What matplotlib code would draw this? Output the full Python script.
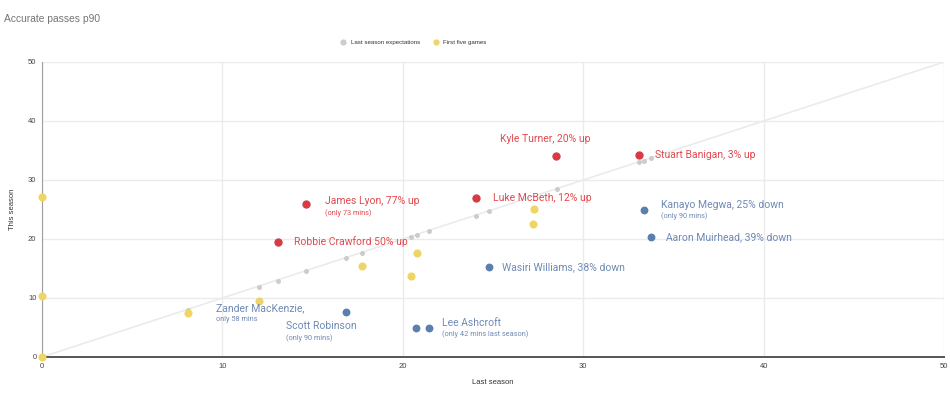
import matplotlib
matplotlib.use('Agg')
import matplotlib.pyplot as plt

# last season expectations (on the diagonal: last season value = expected this season)
expect_x = [8.1, 12.05, 13.06, 14.63, 16.85, 17.72, 20.45, 20.8, 21.43, 24.06, 24.76, 28.55, 33.07, 33.35, 33.76]
expect_y = [8.0, 11.9, 12.9, 14.5, 16.7, 17.7, 20.3, 20.7, 21.35, 23.95, 24.75, 28.47, 33.0, 33.3, 33.7]

# first five games
first_x = [0, 0, 0, 8.11, 12.05, 17.72, 20.77, 20.45, 27.29, 27.2]
first_y = [27.1, 10.3, 0, 7.4, 9.55, 15.5, 17.7, 13.8, 25.1, 22.5]

# players trending up
up_x = [28.5, 33.1, 14.63, 24.06, 13.08]
up_y = [34.07, 34.2, 25.9, 26.95, 19.5]

# players trending down
down_x = [33.37, 33.76, 24.78, 16.85, 20.73, 21.45]
down_y = [24.9, 20.3, 15.25, 7.6, 4.9, 4.9]

# annotations: (x, y, main label, sub label)
labels_up = [
    (25.4, 37.0, 'Kyle Turner, 20% up', None),
    (34.0, 34.2, 'Stuart Banigan, 3% up', None),
    (15.7, 26.4, 'James Lyon, 77% up', '(only 73 mins)'),
    (25.0, 26.95, 'Luke McBeth, 12% up', None),
    (13.95, 19.5, 'Robbie Crawford 50% up', None),
]
labels_down = [
    (34.3, 25.8, 'Kanayo Megwa, 25% down', '(only 90 mins)'),
    (34.6, 20.3, 'Aaron Muirhead, 39% down', None),
    (25.5, 15.25, 'Wasiri Williams, 38% down', None),
    (9.65, 8.2, 'Zander MacKenzie,', 'only 58 mins'),
    (13.5, 5.2, 'Scott Robinson', '(only 90 mins)'),
    (22.2, 5.8, 'Lee Ashcroft', '(only 42 mins last season)'),
]

RED = '#da3a41'
BLUE = '#5b7fae'
RED_TXT = '#e04a50'
BLUE_TXT = '#6f8ab4'

fig = plt.figure(figsize=(9.5, 3.96), dpi=100)
ax = fig.add_axes([0.0442, 0.0985, 0.9495, 0.745])

ax.plot([0, 50], [0, 50], color='#ebebeb', linewidth=1.2, zorder=1)
ax.scatter(expect_x, expect_y, s=13, color='#cccccc', zorder=3, label='Last season expectations', linewidths=0)
ax.scatter(first_x, first_y, s=34, color='#eed566', zorder=4, label='First five games', linewidths=0, clip_on=False)
ax.scatter(up_x, up_y, s=36, color=RED, zorder=5, linewidths=0)
ax.scatter(down_x, down_y, s=32, color=BLUE, zorder=5, linewidths=0)

for x, y, main, sub in labels_up:
    ax.text(x, y, main, color=RED_TXT, fontsize=7.5, family='Roboto', va='center', ha='left', zorder=6)
    if sub:
        ax.text(x, y - 2.0, sub, color=RED_TXT, fontsize=5.3, family='Roboto', va='center', ha='left', zorder=6)
for x, y, main, sub in labels_down:
    ax.text(x, y, main, color=BLUE_TXT, fontsize=7.5, family='Roboto', va='center', ha='left', zorder=6)
    if sub:
        ax.text(x, y - 1.9, sub, color=BLUE_TXT, fontsize=5.3, family='Roboto', va='center', ha='left', zorder=6)

ax.set_xlim(0, 50)
ax.set_ylim(0, 50)
ax.set_xticks([0, 10, 20, 30, 40, 50])
ax.set_yticks([0, 10, 20, 30, 40, 50])
ax.grid(True, color='#ebebeb', linewidth=1)
ax.set_axisbelow(True)
ax.tick_params(length=0, labelsize=5.5, colors='#444444', pad=4)
for lab in ax.get_xticklabels() + ax.get_yticklabels():
    lab.set_family('Liberation Sans')
for side in ['top', 'right']:
    ax.spines[side].set_visible(False)
ax.spines['left'].set_color('#9e9e9e')
ax.spines['bottom'].set_color('#555555')
ax.spines['bottom'].set_linewidth(1.4)

ax.set_xlabel('Last season', fontsize=5.5, color='#333333', family='Liberation Sans', labelpad=7)
ax.set_ylabel('This season', fontsize=5.5, color='#333333', family='Liberation Sans', labelpad=9)

fig.text(0.004, 0.953, 'Accurate passes p90', fontsize=7.4, color='#757575', family='Liberation Sans', va='center')

leg = ax.legend(loc='center', bbox_to_anchor=(0.41, 1.068), ncol=2, frameon=False,
                fontsize=4.4, handletextpad=0.2, columnspacing=1.6, markerscale=0.8)
for t in leg.get_texts():
    t.set_family('Liberation Sans')
    t.set_color('#333333')
leg.legend_handles[0].set_sizes([20])
leg.legend_handles[1].set_sizes([20])

fig.savefig('out.png', dpi=100)
